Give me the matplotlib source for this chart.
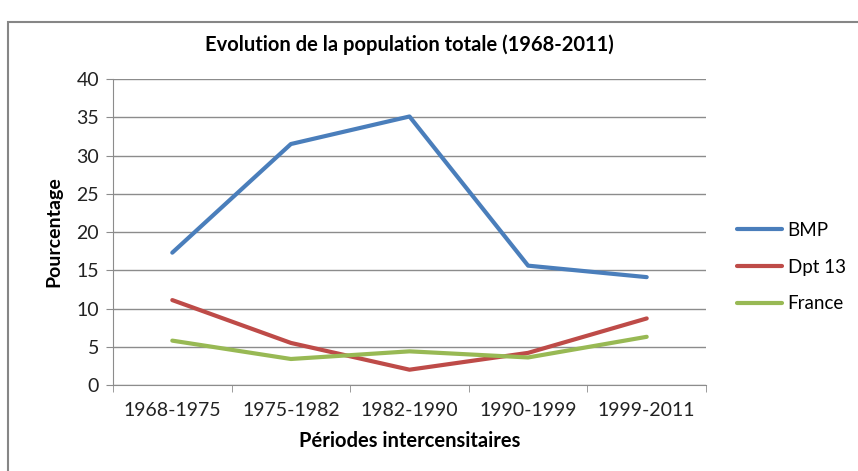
import matplotlib.pyplot as plt
from matplotlib.patches import Rectangle

plt.rcParams['font.family'] = ['Lato', 'DejaVu Sans']

# data
periods = ['1968-1975', '1975-1982', '1982-1990', '1990-1999', '1999-2011']
bmp = [17.3, 31.5, 35.1, 15.6, 14.1]
dpt13 = [11.1, 5.5, 2.0, 4.2, 8.7]
france = [5.8, 3.4, 4.4, 3.6, 6.3]
series_names = ['BMP', 'Dpt 13', 'France']
colors = ['#4A7EBB', '#BE4B48', '#98B954']

fig = plt.figure(figsize=(8.58, 4.71), dpi=100)
ax = fig.add_axes([113/858, 86/471, 593/858, 306/471])

x = range(len(periods))
for vals, name, c in zip([bmp, dpt13, france], series_names, colors):
    ax.plot(x, vals, color=c, lw=3, label=name, solid_capstyle='round')

ax.set_xlim(-0.5, len(periods) - 0.5)
ax.set_ylim(0, 40)
ax.set_yticks(range(0, 41, 5))
ax.yaxis.grid(True, color='#8C8C8C', lw=1)
ax.set_axisbelow(True)

# category labels centred, tick marks on boundaries
ax.set_xticks(list(x))
ax.set_xticklabels(periods, fontsize=14, color='#222222')
ax.tick_params(axis='x', length=0, pad=12)
ax.set_xticks([i - 0.5 for i in range(len(periods) + 1)], minor=True)
ax.tick_params(axis='x', which='minor', length=5, color='#8C8C8C', direction='out')
ax.tick_params(axis='y', length=5, color='#8C8C8C', labelsize=14, labelcolor='#222222', pad=5)

for s in ['top', 'right']:
    ax.spines[s].set_visible(False)
for s in ['left', 'bottom']:
    ax.spines[s].set_color('#8C8C8C')

ax.set_title('Evolution de la population totale (1968-2011)', fontsize=14.5,
             fontweight='bold', pad=20)
ax.set_xlabel('Périodes intercensitaires', fontsize=14.5, fontweight='bold', labelpad=9)
ax.set_ylabel('Pourcentage', fontsize=14, fontweight='bold', labelpad=10)

leg = ax.legend(loc='center left', bbox_to_anchor=(720/858, (471 - 267)/471),
                bbox_transform=fig.transFigure, frameon=False,
                fontsize=13.5, handlelength=2.4, labelspacing=1.05, handletextpad=0.3)

# outer chart frame
fig.patches.append(Rectangle((8/858, -0.1), 1.1, (471 - 22)/471 + 0.1,
                             transform=fig.transFigure, fill=False,
                             edgecolor='#868686', lw=1.5))

fig.savefig('out.png', dpi=100)
